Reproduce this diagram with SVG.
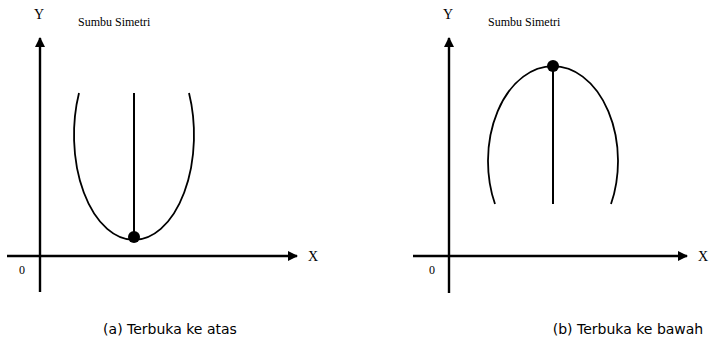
<svg xmlns="http://www.w3.org/2000/svg" width="713" height="344" viewBox="0 0 713 344">
<defs>
<marker id="ah" viewBox="0 0 10 10" refX="9" refY="5" markerWidth="10" markerHeight="10" markerUnits="userSpaceOnUse" orient="auto">
<path d="M0,0 L10,5 L0,10 Z" fill="#000"/>
</marker>
<style>
.ax{stroke:#000;stroke-width:2.4;fill:none}
.cv{stroke:#000;stroke-width:1.8;fill:none}
.sy{stroke:#000;stroke-width:2;fill:none}
.lb{font-family:"Liberation Serif",serif;font-size:14px;fill:#000}
.sm{font-family:"Liberation Serif",serif;font-size:12px;fill:#000}
.cap{font-family:"DejaVu Sans",sans-serif;font-size:14px;fill:#000}
</style>
</defs>
<g id="connectors">
<line class="ax" x1="40" y1="292" x2="40" y2="38" marker-end="url(#ah)"/>
<line class="ax" x1="7" y1="256" x2="297" y2="256" marker-end="url(#ah)"/>
<line class="ax" x1="449" y1="293" x2="449" y2="38" marker-end="url(#ah)"/>
<line class="ax" x1="413" y1="256" x2="687" y2="256" marker-end="url(#ah)"/>
</g>
<g id="panel-a">
<text class="lb" x="39" y="19" text-anchor="middle">Y</text>
<text class="sm" x="78" y="26">Sumbu Simetri</text>
<text class="lb" x="313" y="261" text-anchor="middle">X</text>
<text class="sm" x="22" y="274" text-anchor="middle">0</text>
<path class="cv" d="M79,93 A60,105 0 1 0 189,93"/>
<line class="sy" x1="134" y1="93" x2="134" y2="238"/>
<circle cx="134" cy="237" r="6" fill="#000"/>
<text class="cap" x="170" y="334" text-anchor="middle">(a) Terbuka ke atas</text>
</g>
<g id="panel-b">
<text class="lb" x="448" y="19" text-anchor="middle">Y</text>
<text class="sm" x="488" y="26">Sumbu Simetri</text>
<text class="lb" x="703" y="261" text-anchor="middle">X</text>
<text class="sm" x="432" y="274" text-anchor="middle">0</text>
<path class="cv" d="M495,204 A65,95 0 1 1 611,204"/>
<line class="sy" x1="553" y1="65" x2="553" y2="204"/>
<circle cx="553" cy="66" r="6" fill="#000"/>
<text class="cap" x="628" y="334" text-anchor="middle">(b) Terbuka ke bawah</text>
</g>
</svg>
